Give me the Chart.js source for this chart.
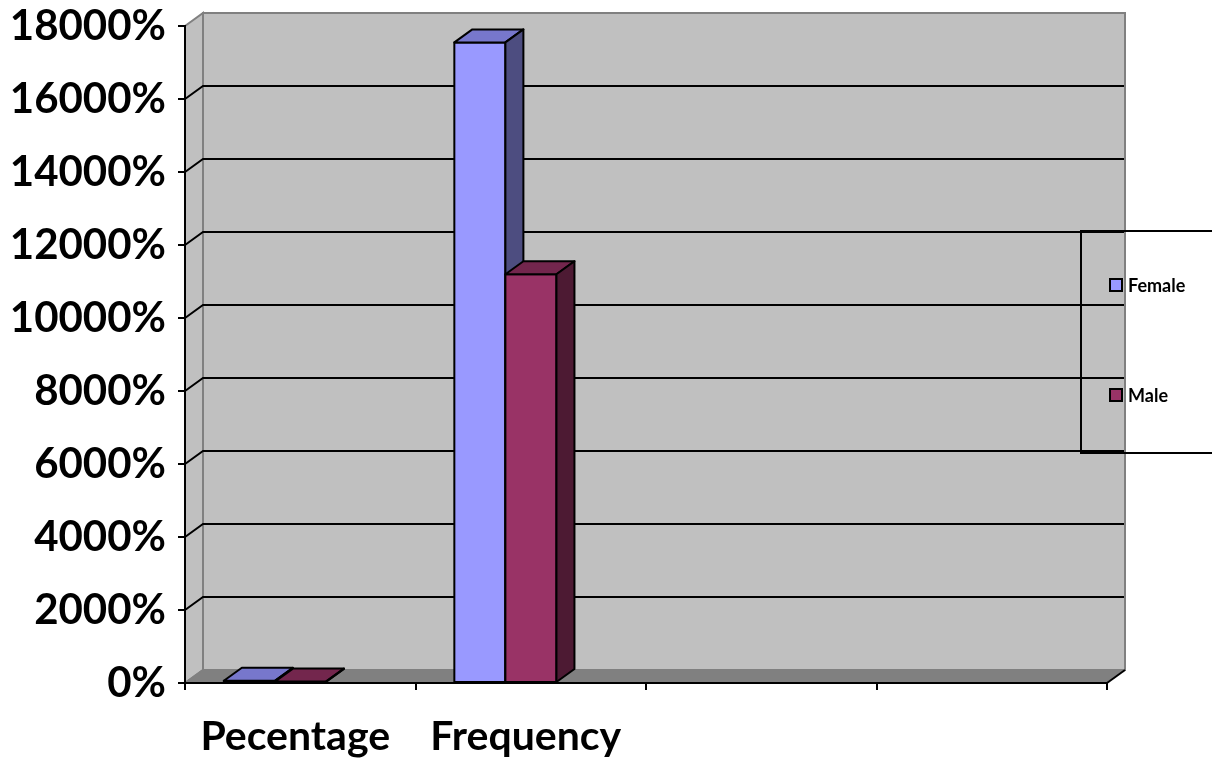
<!DOCTYPE html>
<html lang="en">
  <head>
    <meta charset="utf-8" />
    <title>Female / Male bar chart</title>
    <style>
      * {
        margin: 0;
        padding: 0;
      }
      body {
        background: white;
      }
      .chartBox {
        width: 1212px;
        height: 760px;
      }
    </style>
  </head>
  <body>
    <div class="chartBox">
      <canvas id="myChart"></canvas>
    </div>

    <script src="https://cdn.jsdelivr.net/npm/chart.js"></script>
    <script>
      const categories = ["Pecentage", "Frequency", "", ""];
      const seriesNames = ["Female", "Male"];
      const femaleValues = [61, 17550];
      const maleValues = [39, 11200];
      const yTicks = [0, 2000, 4000, 6000, 8000, 10000, 12000, 14000, 16000, 18000];

      const frontColors = ["#9999FF", "#993366"];
      const topColors = ["#7777CC", "#73264D"];
      const sideColors = ["#4D4D80", "#4D1A33"];

      const DX = 18;
      const DY = 13;

      function poly(ctx, pts, fill, stroke, lw) {
        ctx.beginPath();
        ctx.moveTo(pts[0][0], pts[0][1]);
        for (let i = 1; i < pts.length; i++) ctx.lineTo(pts[i][0], pts[i][1]);
        ctx.closePath();
        if (fill) {
          ctx.fillStyle = fill;
          ctx.fill();
        }
        if (stroke) {
          ctx.strokeStyle = stroke;
          ctx.lineWidth = lw;
          ctx.stroke();
        }
      }

      // back wall, side wall, floor and gridlines of the 3D box
      const walls = {
        id: "walls",
        beforeDraw(chart) {
          const {
            ctx,
            chartArea: { left, right, top, bottom },
            scales: { y },
          } = chart;
          ctx.save();
          // back wall
          poly(ctx, [[left + DX, top - DY], [right + DX, top - DY], [right + DX, bottom - DY], [left + DX, bottom - DY]], "#C0C0C0", "#808080", 2);
          // side wall
          poly(ctx, [[left, top], [left + DX, top - DY], [left + DX, bottom - DY], [left, bottom]], "#C0C0C0", "#808080", 2);
          // floor
          poly(ctx, [[left, bottom], [left + DX, bottom - DY], [right + DX, bottom - DY], [right, bottom]], "#808080", null, 0);
          ctx.strokeStyle = "#808080";
          ctx.lineWidth = 2;
          ctx.beginPath();
          ctx.moveTo(left, bottom);
          ctx.lineTo(left + DX, bottom - DY);
          ctx.lineTo(right + DX, bottom - DY);
          ctx.stroke();
          ctx.strokeStyle = "black";
          ctx.beginPath();
          ctx.moveTo(right, bottom);
          ctx.lineTo(right + DX, bottom - DY);
          ctx.stroke();
          // gridlines
          ctx.strokeStyle = "black";
          ctx.lineWidth = 2;
          yTicks.forEach((v) => {
            if (v === 0 || v === 18000) return;
            const py = y.getPixelForValue(v);
            ctx.beginPath();
            ctx.moveTo(left, py);
            ctx.lineTo(left + DX, py - DY);
            ctx.lineTo(right + DX - 1, py - DY);
            ctx.stroke();
          });
          ctx.restore();
        },
      };

      // 3D bars drawn from the bar elements' positions
      const bars3d = {
        id: "bars3d",
        afterDatasetsDraw(chart) {
          const { ctx, scales: { x } } = chart;
          const catW = x.getPixelForValue(1) - x.getPixelForValue(0);
          const shift = catW * 0.11;
          ctx.save();
          ctx.lineJoin = "round";
          for (let i = 0; i < categories.length; i++) {
            chart.data.datasets.forEach((ds, d) => {
              const el = chart.getDatasetMeta(d).data[i];
              if (!el || ds.data[i] == null) return;
              const l = el.x - el.width / 2 - shift;
              const r = l + el.width;
              const t = el.y;
              const b = el.base;
              poly(ctx, [[l, t], [r, t], [r, b], [l, b]], frontColors[d], "black", 2);
              poly(ctx, [[l, t], [l + DX, t - DY], [r + DX, t - DY], [r, t]], topColors[d], "black", 2);
              poly(ctx, [[r, t], [r + DX, t - DY], [r + DX, b - DY], [r, b]], sideColors[d], "black", 2);
            });
          }
          ctx.restore();
        },
      };

      // legend box on the right
      const legendBox = {
        id: "legendBox",
        afterDraw(chart) {
          const { ctx } = chart;
          ctx.save();
          ctx.strokeStyle = "black";
          ctx.lineWidth = 2;
          ctx.beginPath();
          ctx.moveTo(1215, 231);
          ctx.lineTo(1081, 231);
          ctx.lineTo(1081, 453);
          ctx.lineTo(1215, 453);
          ctx.stroke();
          const rows = [285, 395];
          seriesNames.forEach((name, d) => {
            const cy = rows[d];
            ctx.fillStyle = frontColors[d];
            ctx.fillRect(1110, cy - 6, 12, 12);
            ctx.strokeRect(1110, cy - 6, 12, 12);
            ctx.fillStyle = "black";
            ctx.font = "bold 18px Lato";
            ctx.textBaseline = "middle";
            ctx.fillText(name, 1128, cy + 1);
          });
          ctx.restore();
        },
      };

      const data = {
        labels: categories,
        datasets: [
          {
            label: seriesNames[0],
            data: femaleValues,
            backgroundColor: "rgba(0,0,0,0)",
            borderWidth: 0,
          },
          {
            label: seriesNames[1],
            data: maleValues,
            backgroundColor: "rgba(0,0,0,0)",
            borderWidth: 0,
          },
        ],
      };

      const config = {
        type: "bar",
        data: data,
        options: {
          responsive: true,
          maintainAspectRatio: false,
          animation: false,
          datasets: {
            bar: {
              categoryPercentage: 0.443,
              barPercentage: 1,
            },
          },
          layout: {
            padding: { left: 0, right: 105, top: 26, bottom: 0 },
          },
          plugins: {
            legend: { display: false },
            tooltip: { enabled: false },
          },
          scales: {
            y: {
              min: 0,
              max: 18000,
              afterFit: (scale) => {
                scale.width = 185;
              },
              afterBuildTicks: (scale) => {
                scale.ticks = yTicks.map((v) => ({ value: v }));
              },
              ticks: {
                color: "black",
                padding: 12,
                font: { family: "Lato", weight: "bold", size: 42, lineHeight: 0.5 },
                callback: (v) => v + "%",
              },
              grid: {
                drawOnChartArea: false,
                drawTicks: true,
                tickLength: 7,
                color: "black",
                lineWidth: 2,
              },
              border: { display: true, color: "black", width: 2 },
            },
            x: {
              afterFit: (scale) => {
                scale.height = 77;
              },
              ticks: {
                color: "black",
                padding: 22,
                labelOffset: -5,
                maxRotation: 0,
                font: { family: "Lato", weight: "bold", size: 41 },
              },
              grid: {
                offset: true,
                drawOnChartArea: false,
                drawTicks: true,
                tickLength: 7,
                color: "black",
                lineWidth: 2,
              },
              border: { display: true, color: "black", width: 2 },
            },
          },
        },
        plugins: [walls, bars3d, legendBox],
      };

      const myChart = new Chart(document.getElementById("myChart"), config);
    </script>
  </body>
</html>
